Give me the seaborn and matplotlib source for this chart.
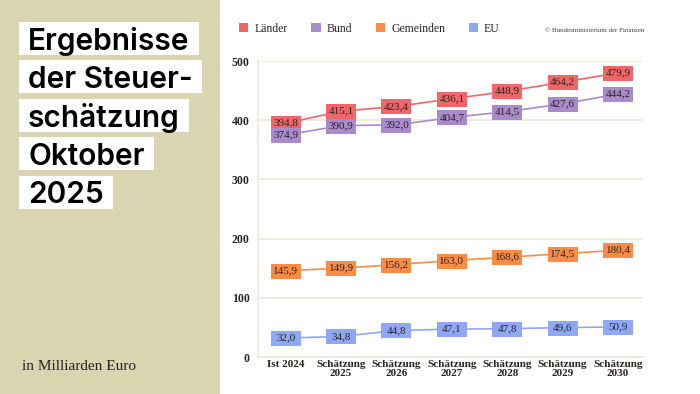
import numpy as np
import pandas as pd
import seaborn as sns
import matplotlib.pyplot as plt
from matplotlib.patches import Patch, Rectangle

plt.switch_backend("Agg")

# data
years = ["Ist 2024", "Schätzung\n2025", "Schätzung\n2026", "Schätzung\n2027",
         "Schätzung\n2028", "Schätzung\n2029", "Schätzung\n2030"]
laender = [394.8, 415.1, 423.4, 436.1, 448.9, 464.2, 479.9]
bund = [374.9, 390.9, 392.0, 404.7, 414.5, 427.6, 444.2]
gemeinden = [145.9, 149.9, 156.2, 163.0, 168.6, 174.5, 180.4]
eu = [32.0, 34.8, 44.8, 47.1, 47.8, 49.6, 50.9]
series_names = ["Länder", "Bund", "Gemeinden", "EU"]
colors = ["#f0676a", "#a98bcb", "#fa8c47", "#8fa8f5"]
title_lines = ["Ergebnisse", "der Steuer-", "schätzung", "Oktober", "2025"]
yticks = [0, 100, 200, 300, 400, 500]

beige = "#dad5b1"
grid_col = "#ebe9d8"
text_col = "#2b2424"

sns.set_theme(style="white")
plt.rcParams["font.family"] = ["Liberation Serif", "DejaVu Serif"]

df = pd.DataFrame({
    "pos": list(range(len(years))) * len(series_names),
    "value": laender + bund + gemeinden + eu,
    "series": np.repeat(series_names, len(years)),
})

W, H = 700, 394
fig = plt.figure(figsize=(7, 3.94), dpi=100)
fig.patch.set_facecolor("white")
fig.add_artist(Rectangle((0, 0), 220 / W, 1, transform=fig.transFigure,
                         facecolor=beige, edgecolor="none", zorder=0))

ax = fig.add_axes([258 / W, 37 / H, 385 / W, 296 / H])

# box shaped markers, twice as wide as tall
box = [(-1, -0.5), (1, -0.5), (1, 0.5), (-1, 0.5), (-1, -0.5)]
sns.lineplot(data=df, x="pos", y="value", hue="series", hue_order=series_names,
             palette=dict(zip(series_names, colors)), marker=box, markersize=21.6,
             markeredgewidth=0, linewidth=1.2, legend=False, ax=ax)

for _, row in df.iterrows():
    ax.text(row["pos"], row["value"], f"{row['value']:.1f}".replace(".", ","),
            ha="center", va="center", fontsize=8, color=text_col, zorder=5)

ax.set_xlim(-0.5, 6.45)
ax.set_ylim(0, 500)
ax.set_yticks(yticks)
ax.set_xticks(range(len(years)))
ax.set_xticklabels(years, fontsize=8, color=text_col, fontweight="bold", linespacing=1.1)
ax.set_yticklabels([str(t) for t in yticks], fontsize=8.5, color=text_col, fontweight="bold")
ax.set_xlabel("")
ax.set_ylabel("")
ax.yaxis.grid(True, color=grid_col, linewidth=1.2)
ax.set_axisbelow(True)
for s in ["top", "right"]:
    ax.spines[s].set_visible(False)
for s in ["left", "bottom"]:
    ax.spines[s].set_color(grid_col)
    ax.spines[s].set_linewidth(1.2)
ax.tick_params(axis="both", length=0)
ax.tick_params(axis="y", pad=6)
ax.tick_params(axis="x", pad=2)

handles = [Patch(facecolor=c, edgecolor="none", label=n) for n, c in zip(series_names, colors)]
fig.legend(handles=handles, loc="center left", bbox_to_anchor=(239 / W, 1 - 29 / H),
           ncol=4, frameon=False, fontsize=8.5, handlelength=0.8, handleheight=0.8,
           handletextpad=0.5, columnspacing=2.0, borderpad=0, borderaxespad=0,
           labelcolor=text_col)

fig.text(545 / W, 1 - 30 / H, "© Bundesministerium der Finanzen", fontsize=5,
         va="center", color="#444444")

# title block: each line on its own white box
renderer = fig.canvas.get_renderer()
for i, line in enumerate(title_lines):
    yc = 38.5 + 38.4 * i
    t = fig.text(28 / W, 1 - yc / H, line, fontsize=21.5,
                 family=["Inter", "DejaVu Sans"], fontweight="semibold", color="black",
                 va="center_baseline", ha="left", zorder=3)
    ext = t.get_window_extent(renderer)
    fig.add_artist(Rectangle(((ext.x0 - 9) / W, 1 - (yc + 16.5) / H),
                             (ext.width + 18) / W, 33 / H, transform=fig.transFigure,
                             facecolor="white", edgecolor="none", zorder=2))

fig.text(22 / W, 1 - 366 / H, "in Milliarden Euro", fontsize=11, va="center",
         color="#222222")

fig.savefig("out.png", dpi=100)
